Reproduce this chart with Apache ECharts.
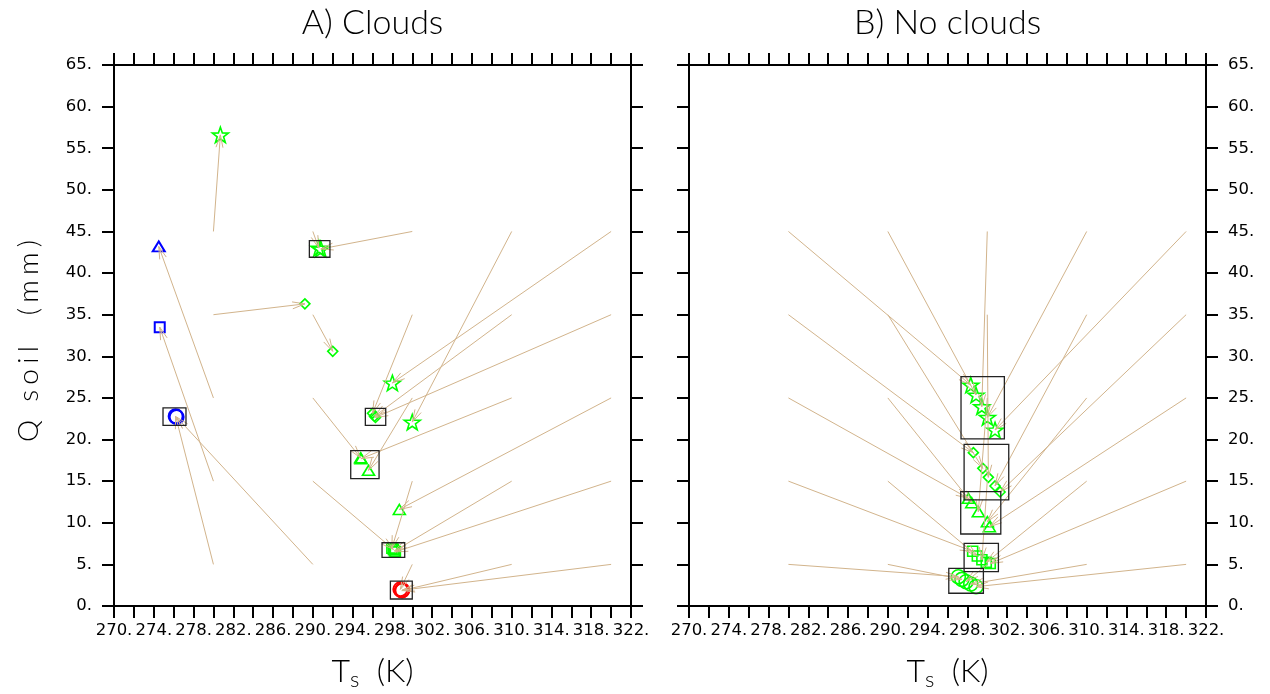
<!DOCTYPE html>
<html>
<head>
<meta charset="utf-8">
<script src="https://cdn.jsdelivr.net/npm/echarts@6/dist/echarts.min.js"></script>
<style>
  html, body { margin: 0; padding: 0; background: #fff; }
  #chart { width: 1270px; height: 694px; }
</style>
</head>
<body>
<div id="chart"></div>
<script>
// Initial states: surface temperature (K) and soil moisture (mm)
const startT = [280, 290, 300, 310, 320];
const startQ = [45, 35, 25, 15, 5];

// A) Clouds: final states, one row per initial Q, one column per initial T
const cloudsEndT = [
  [280.7, 290.6, 290.8, 300.0, 298.0],
  [289.2, 292.0, 296.0, 296.2, 296.3],
  [274.5, 294.8, 295.6, 294.85, 298.7],
  [274.6, 298.1, 297.95, 298.2, 298.3],
  [276.2, 276.3, 298.8, 298.95, 299.0]
];
const cloudsEndQ = [
  [56.6, 43.0, 42.9, 22.1, 26.8],
  [36.3, 30.6, 23.15, 22.8, 22.65],
  [43.2, 17.8, 16.3, 17.7, 11.6],
  [33.5, 6.8, 6.95, 6.6, 6.5],
  [22.8, 22.7, 2.0, 1.85, 1.9]
];
const cloudsRegime = [
  ['moist', 'moist', 'moist', 'moist', 'moist'],
  ['moist', 'moist', 'moist', 'moist', 'moist'],
  ['cold', 'moist', 'moist', 'moist', 'moist'],
  ['cold', 'moist', 'moist', 'moist', 'moist'],
  ['cold', 'cold', 'dry', 'dry', 'dry']
];
// equilibrium groups [Tmin, Qmin, Tmax, Qmax]
const cloudsBoxes = [
  [289.65, 41.9, 291.72, 43.89],
  [295.28, 21.71, 297.33, 23.75],
  [293.81, 15.3, 296.66, 18.66],
  [296.96, 5.85, 299.24, 7.6],
  [297.8, 0.84, 300.0, 3.0],
  [274.93, 21.7, 277.24, 23.8]
];

// B) No clouds
const noCloudsEndT = [
  [298.34, 298.87, 299.45, 300.01, 300.78],
  [298.6, 299.55, 300.11, 300.78, 301.29],
  [298.1, 298.44, 299.1, 300.01, 300.21],
  [298.53, 299.0, 299.46, 299.9, 300.3],
  [297.09, 297.45, 297.87, 298.34, 298.87]
];
const noCloudsEndQ = [
  [26.55, 25.35, 23.95, 22.67, 21.15],
  [18.42, 16.54, 15.46, 14.42, 13.7],
  [12.94, 12.41, 11.33, 10.13, 9.53],
  [6.57, 6.0, 5.55, 5.24, 5.1],
  [3.52, 3.2, 2.92, 2.64, 2.32]
];
const noCloudsRegime = [
  ['moist', 'moist', 'moist', 'moist', 'moist'],
  ['moist', 'moist', 'moist', 'moist', 'moist'],
  ['moist', 'moist', 'moist', 'moist', 'moist'],
  ['moist', 'moist', 'moist', 'moist', 'moist'],
  ['moist', 'moist', 'moist', 'moist', 'moist']
];
const noCloudsBoxes = [
  [297.36, 20.07, 301.72, 27.55],
  [297.67, 12.74, 302.16, 19.43],
  [297.33, 8.65, 301.36, 13.73],
  [297.67, 4.12, 301.12, 7.53],
  [296.13, 1.53, 299.61, 4.53]
];

const panelTitles = ['A) Clouds', 'B) No clouds'];
const xTitle = ['T', 's', '  (K)'];
const yTitle = 'Q soil  (mm)';

// ---------------------------------------------------------------------------
const ARROW = '#d2b48c';
const BOX = '#222';
const REGIME_COLOR = { moist: '#00ff00', cold: '#0000ff', dry: '#ff0000' };
const TICK_FONT = 'DejaVu Sans, Liberation Sans, sans-serif';
const TITLE_FONT = 'Lato, DejaVu Sans, sans-serif';

function starPath() {
  const pts = [];
  for (let i = 0; i < 10; i++) {
    const r = i % 2 ? 40 : 100;
    const a = -Math.PI / 2 + i * Math.PI / 5;
    pts.push((100 + r * Math.cos(a)).toFixed(2) + ' ' + (100 + r * Math.sin(a)).toFixed(2));
  }
  return 'path://M' + pts.join(' L') + ' Z';
}
// marker per initial-Q row
const ROW_SYMBOL = [
  { symbol: starPath(), size: 16, keep: true },
  { symbol: 'diamond', size: [10, 10] },
  { symbol: 'triangle', size: [12, 10] },
  { symbol: 'rect', size: 10 },
  { symbol: 'circle', size: 14 }
];

const GRIDS = [
  { left: 114, top: 65, width: 517, height: 541 },
  { left: 689, top: 65, width: 517, height: 541 }
];

const axisLineStyle = { show: true, onZero: false, lineStyle: { color: '#000', width: 2 } };
const axisTickStyle = { show: true, inside: false, length: 12, lineStyle: { color: '#000', width: 2 } };

function xAxisPair(gi) {
  const base = {
    type: 'value', gridIndex: gi, min: 270, max: 322, interval: 2,
    axisLine: axisLineStyle, axisTick: axisTickStyle, splitLine: { show: false }
  };
  return [
    Object.assign({}, base, {
      position: 'bottom',
      axisLabel: {
        margin: 16, color: '#000', fontFamily: TICK_FONT, fontSize: 16.5,
        formatter: v => ((v - 270) % 4 === 0 ? v + '.' : '')
      }
    }),
    Object.assign({}, base, { position: 'top', axisLabel: { show: false } })
  ];
}
function yAxisPair(gi, labelSide) {
  const base = {
    type: 'value', gridIndex: gi, min: 0, max: 65, interval: 5,
    axisLine: axisLineStyle, axisTick: axisTickStyle, splitLine: { show: false }
  };
  const lab = { margin: 22, color: '#000', fontFamily: TICK_FONT, fontSize: 16.5, formatter: v => v + '.' };
  return ['left', 'right'].map(pos => Object.assign({}, base, {
    position: pos,
    axisLabel: pos === labelSide ? lab : { show: false }
  }));
}

function arrowItem(params, api) {
  const p0 = api.coord([api.value(0), api.value(1)]);
  const p1 = api.coord([api.value(2), api.value(3)]);
  const ang = Math.atan2(p1[1] - p0[1], p1[0] - p0[0]);
  const L = 13, a = 0.27;
  const h1 = [p1[0] - L * Math.cos(ang - a), p1[1] - L * Math.sin(ang - a)];
  const h2 = [p1[0] - L * Math.cos(ang + a), p1[1] - L * Math.sin(ang + a)];
  return {
    type: 'group',
    children: [
      { type: 'line', shape: { x1: p0[0], y1: p0[1], x2: p1[0], y2: p1[1] },
        style: { stroke: ARROW, lineWidth: 1, fill: null } },
      { type: 'polyline', shape: { points: [h1, p1, h2] },
        style: { stroke: ARROW, lineWidth: 1, fill: null } }
    ]
  };
}
function boxItem(params, api) {
  const a = api.coord([api.value(0), api.value(1)]);
  const b = api.coord([api.value(2), api.value(3)]);
  return {
    type: 'rect',
    shape: { x: Math.min(a[0], b[0]), y: Math.min(a[1], b[1]),
             width: Math.abs(b[0] - a[0]), height: Math.abs(b[1] - a[1]) },
    style: { stroke: BOX, lineWidth: 1.3, fill: null }
  };
}

function panelSeries(xi, yi, endT, endQ, regime, boxes) {
  const arrows = [];
  endT.forEach((row, r) => row.forEach((t, c) => {
    arrows.push([startT[c], startQ[r], t, endQ[r][c]]);
  }));
  const out = [];
  endT.forEach((row, r) => {
    const sym = ROW_SYMBOL[r];
    out.push({
      type: 'scatter', xAxisIndex: xi, yAxisIndex: yi, z: 2,
      symbol: sym.symbol, symbolSize: sym.size, symbolKeepAspect: !!sym.keep,
      itemStyle: { color: 'rgba(0,0,0,0)', borderWidth: 1.5, opacity: 1 },
      emphasis: { disabled: true },
      data: row.map((t, c) => ({
        value: [t, endQ[r][c]],
        itemStyle: {
          borderColor: REGIME_COLOR[regime[r][c]],
          borderWidth: regime[r][c] === 'moist' ? 1.6 : 2
        }
      }))
    });
  });
  out.push({
    type: 'custom', xAxisIndex: xi, yAxisIndex: yi, z: 3, silent: true,
    renderItem: arrowItem, encode: { x: [0, 2], y: [1, 3] }, data: arrows
  });
  out.push({
    type: 'custom', xAxisIndex: xi, yAxisIndex: yi, z: 4, silent: true,
    renderItem: boxItem, encode: { x: [0, 2], y: [1, 3] }, data: boxes
  });
  return out;
}

const graphics = [];
GRIDS.forEach((g, i) => {
  const cx = g.left + g.width / 2;
  graphics.push({
    type: 'text', x: cx, y: 23,
    style: { text: panelTitles[i], fill: '#000', font: '300 34px ' + TITLE_FONT,
             textAlign: 'center', textVerticalAlign: 'middle' }
  });
  graphics.push({
    type: 'text', x: cx, y: 672,
    style: {
      text: '{t|' + xTitle[0] + '}{s|' + xTitle[1] + '}{t|' + xTitle[2] + '}',
      textAlign: 'center', textVerticalAlign: 'middle',
      rich: {
        t: { fontFamily: TITLE_FONT, fontWeight: 300, fontSize: 32, fill: '#000', lineHeight: 36, verticalAlign: 'middle' },
        s: { fontFamily: TITLE_FONT, fontWeight: 300, fontSize: 22, fill: '#000', lineHeight: 36, padding: [16, 0, 0, 0], verticalAlign: 'middle' }
      }
    }
  });
});
graphics.push({
  type: 'text', x: 29, y: 341, rotation: Math.PI / 2,
  style: { text: yTitle.split('').join('\u2009\u200a'), fill: '#000', font: '300 28px ' + TITLE_FONT,
           textAlign: 'center', textVerticalAlign: 'middle' }
});

const chart = echarts.init(document.getElementById('chart'), null, { renderer: 'canvas' });
chart.setOption({
  animation: false,
  backgroundColor: '#fff',
  grid: GRIDS,
  xAxis: [].concat(xAxisPair(0), xAxisPair(1)),
  yAxis: [].concat(yAxisPair(0, 'left'), yAxisPair(1, 'right')),
  series: [].concat(
    panelSeries(0, 0, cloudsEndT, cloudsEndQ, cloudsRegime, cloudsBoxes),
    panelSeries(2, 2, noCloudsEndT, noCloudsEndQ, noCloudsRegime, noCloudsBoxes)
  ),
  graphic: graphics
});
</script>
</body>
</html>
